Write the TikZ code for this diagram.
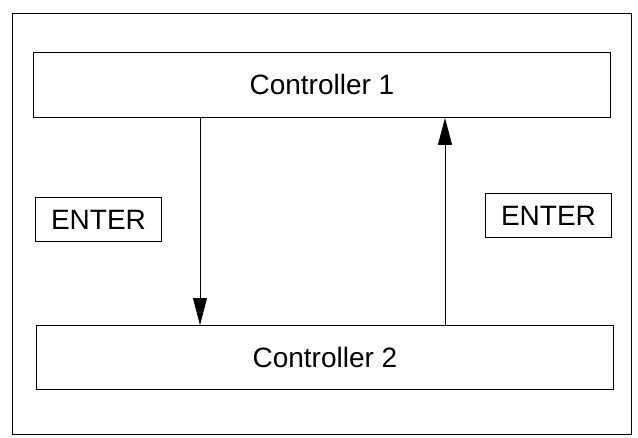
\documentclass[tikz,border=0pt]{standalone}
\usepackage{fontspec}
\setmainfont{Liberation Sans}
\usetikzlibrary{arrows.meta}
\begin{document}
\begin{tikzpicture}[x=1pt,y=-1pt,
  box/.style={draw,line width=0.9pt,inner sep=0pt,anchor=north west},
  lbl/.style={font=\fontsize{28}{30}\selectfont},
  conn/.style={line width=0.9pt,-{Triangle[length=27pt,width=14pt]}}]
\useasboundingbox (0,0) rectangle (638,437);
\node[draw,line width=0.8pt,minimum width=619pt,minimum height=421pt,anchor=north west,inner sep=0pt] (frame) at (12,13) {};
\node[box,minimum width=577pt,minimum height=65pt,lbl] (c1) at (33,52) {Controller 1};
\node[box,minimum width=577pt,minimum height=64pt,lbl] (c2) at (36,325) {Controller 2};
\node[box,minimum width=126pt,minimum height=44pt,lbl] (e1) at (35,197) {ENTER};
\node[box,minimum width=126pt,minimum height=44pt,lbl] (e2) at (485,193) {ENTER};
\coordinate (d1) at (200,0);
\coordinate (u1) at (445,0);
\draw[conn] (c1.south -| d1) -- (c2.north -| d1);
\draw[conn] (c2.north -| u1) -- (c1.south -| u1);
\end{tikzpicture}
\end{document}
